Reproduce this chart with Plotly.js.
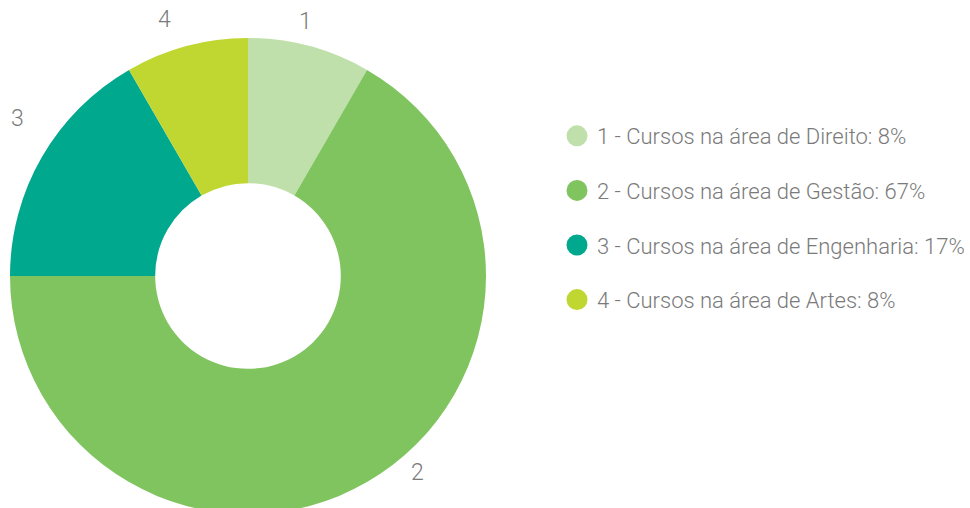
<!DOCTYPE html>
<html>
<head>
<meta charset="utf-8">
<script src="https://cdn.plot.ly/plotly-3.0.1.min.js"></script>
<style>
html,body{margin:0;padding:0;overflow:hidden;width:970px;height:508px;background:#fff;}
#chart{width:970px;height:552px;}
</style>
</head>
<body>
<div id="chart"></div>
<script>
const sliceLabels = ['1', '2', '3', '4'];
const categories = [
  '1 - Cursos na área de Direito: 8%',
  '2 - Cursos na área de Gestão: 67%',
  '3 - Cursos na área de Engenharia: 17%',
  '4 - Cursos na área de Artes: 8%'
];
const values = [1, 8, 2, 1];
const colors = ['#bfe0ab', '#80c45f', '#00a88e', '#bfd730'];
// outside label placement (pixels, page coordinates)
const labelPos = [[305, 21], [417, 472], [17, 119], [164, 19]];

const W = 970, H = 552;
const FONT = 'Roboto, "Open Sans", sans-serif';
const TXT = '#7a7a7a';

const traces = [{
  type: 'pie',
  labels: categories,
  values: values,
  textinfo: 'none',
  sort: false,
  direction: 'clockwise',
  rotation: 0,
  hole: 0.39,
  marker: {colors: colors, line: {width: 0}},
  domain: {x: [10 / W, 486 / W], y: [38 / H, 514 / H]},
  showlegend: false,
  hoverinfo: 'none'
}];

categories.forEach((c, i) => {
  traces.push({
    type: 'scatter',
    mode: 'markers',
    x: [null], y: [null],
    name: c,
    legendgroup: 'g' + i,
    marker: {color: colors[i], size: 16, symbol: 'circle', line: {color: colors[i], width: 5}},
    showlegend: true,
    hoverinfo: 'none'
  });
});

const annotations = sliceLabels.map((t, i) => ({
  xref: 'paper', yref: 'paper',
  x: labelPos[i][0] / W, y: 1 - labelPos[i][1] / H,
  xanchor: 'center', yanchor: 'middle',
  text: t, showarrow: false,
  font: {family: FONT, size: 23, color: TXT, weight: 300}
}));

const layout = {
  width: W, height: H,
  margin: {l: 0, r: 0, t: 0, b: 0},
  paper_bgcolor: '#fff',
  plot_bgcolor: '#fff',
  xaxis: {visible: false, domain: [0.99, 1]},
  yaxis: {visible: false, domain: [0.99, 1]},
  showlegend: true,
  annotations: annotations,
  legend: {
    x: 557 / W, xanchor: 'left',
    y: 1 - 115 / H, yanchor: 'top',
    font: {family: FONT, size: 22, color: TXT, weight: 300},
    tracegroupgap: 23,
    bgcolor: 'rgba(0,0,0,0)',
    itemclick: false
  }
};

Plotly.newPlot('chart', traces, layout, {staticPlot: true, displayModeBar: false});
</script>
</body>
</html>
